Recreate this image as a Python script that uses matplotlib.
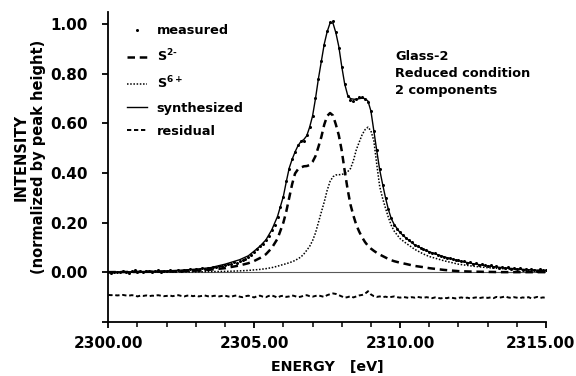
import numpy as np
import matplotlib
matplotlib.use("Agg")
import matplotlib.pyplot as plt
import matplotlib.transforms as mtransforms
from matplotlib.ticker import MultipleLocator, FormatStrFormatter

plt.rcParams['font.family'] = ['DejaVu Sans']
plt.rcParams['font.weight'] = 'bold'

# ---- fitted components (energy grid in eV) ----
energy_fit = [2300.0, 2301.0, 2302.0, 2302.5, 2303.0, 2303.5, 2304.0, 2304.5, 2304.8, 2305.0,
              2305.2, 2305.4, 2305.6, 2305.8, 2306.0,
              2306.1, 2306.2, 2306.3, 2306.4, 2306.5, 2306.6, 2306.7, 2306.8, 2306.9, 2307.0,
              2307.1, 2307.2, 2307.3, 2307.4, 2307.5, 2307.6, 2307.7, 2307.8, 2307.9, 2308.0,
              2308.1, 2308.2, 2308.3, 2308.4, 2308.5, 2308.6, 2308.7, 2308.8, 2308.9, 2309.0,
              2309.1, 2309.2, 2309.3, 2309.4, 2309.5, 2309.6, 2309.7, 2309.8,
              2310.0, 2310.2, 2310.5, 2310.8, 2311.0,
              2311.5, 2312.0, 2312.5, 2313.0, 2313.5, 2314.0, 2314.5, 2315.0]

s2_minus = [0.000, 0.001, 0.002, 0.004, 0.006, 0.010, 0.016, 0.027, 0.036, 0.045,
            0.057, 0.072, 0.097, 0.135, 0.200,
            0.245, 0.300, 0.355, 0.398, 0.415, 0.422, 0.427, 0.428, 0.432, 0.445,
            0.468, 0.505, 0.545, 0.595, 0.630, 0.642, 0.632, 0.595, 0.552, 0.490,
            0.410, 0.335, 0.272, 0.228, 0.190, 0.163, 0.140, 0.121, 0.106, 0.095,
            0.086, 0.078, 0.071, 0.065, 0.059, 0.053, 0.048, 0.044,
            0.038, 0.033, 0.025, 0.020, 0.016,
            0.009, 0.004, 0.002, 0.001, 0.000, 0.000, 0.000, 0.000]

s6_plus = [0.000, 0.000, 0.000, 0.001, 0.001, 0.002, 0.003, 0.005, 0.007, 0.009,
           0.011, 0.014, 0.018, 0.024, 0.031,
           0.034, 0.038, 0.042, 0.047, 0.054, 0.061, 0.073, 0.088, 0.104, 0.127,
           0.158, 0.200, 0.242, 0.283, 0.330, 0.366, 0.385, 0.392, 0.393, 0.394,
           0.398, 0.405, 0.418, 0.450, 0.494, 0.525, 0.555, 0.575, 0.585, 0.570,
           0.530, 0.435, 0.346, 0.298, 0.258, 0.220, 0.188, 0.165,
           0.135, 0.117, 0.092, 0.073, 0.063,
           0.046, 0.032, 0.024, 0.018, 0.014, 0.010, 0.008, 0.006]

synthesized = [0.000, 0.002, 0.005, 0.008, 0.012, 0.018, 0.032, 0.050, 0.066, 0.085,
               0.105, 0.130, 0.170, 0.225, 0.306,
               0.365, 0.420, 0.455, 0.485, 0.510, 0.527, 0.535, 0.550, 0.585, 0.630,
               0.700, 0.780, 0.850, 0.920, 0.970, 1.005, 1.005, 0.965, 0.910, 0.830,
               0.760, 0.715, 0.700, 0.698, 0.697, 0.700, 0.702, 0.700, 0.690, 0.650,
               0.570, 0.490, 0.413, 0.355, 0.300, 0.252, 0.215, 0.192,
               0.159, 0.138, 0.110, 0.092, 0.082,
               0.062, 0.046, 0.034, 0.025, 0.018, 0.013, 0.009, 0.006]

# ---- measured spectrum and residual (0.1 eV steps from 2300.0 to 2315.0) ----
e_start, e_step = 2300.0, 0.1
measured = [
    0.001, -0.002, 0.002, 0.000, -0.001, 0.003, 0.001, -0.002, 0.004, 0.008,
    0.002, 0.005, -0.001, 0.003, 0.006, 0.001, 0.004, 0.007, 0.002, 0.006,
    0.003, 0.008, 0.005, 0.004, 0.010, 0.006, 0.009, 0.007, 0.012, 0.008,
    0.013, 0.010, 0.015, 0.012, 0.018, 0.016, 0.021, 0.019, 0.025, 0.023,
    0.030, 0.034, 0.031, 0.040, 0.037, 0.046, 0.050, 0.055, 0.062, 0.070,
    0.083, 0.092, 0.104, 0.115, 0.131, 0.145, 0.168, 0.190, 0.222, 0.262,
    0.305, 0.368, 0.418, 0.457, 0.486, 0.512, 0.530, 0.528, 0.552, 0.584,
    0.628, 0.702, 0.778, 0.852, 0.918, 0.972, 1.008, 1.012, 0.968, 0.905,
    0.828, 0.758, 0.712, 0.695, 0.690, 0.698, 0.705, 0.708, 0.700, 0.688,
    0.652, 0.568, 0.492, 0.418, 0.352, 0.298, 0.256, 0.218, 0.190, 0.176,
    0.160, 0.150, 0.139, 0.128, 0.121, 0.111, 0.106, 0.099, 0.093, 0.090,
    0.083, 0.078, 0.076, 0.069, 0.066, 0.063, 0.058, 0.057, 0.052, 0.050,
    0.047, 0.044, 0.045, 0.038, 0.040, 0.033, 0.036, 0.030, 0.032, 0.027,
    0.026, 0.029, 0.021, 0.024, 0.018, 0.022, 0.015, 0.019, 0.013, 0.017,
    0.011, 0.015, 0.009, 0.013, 0.006, 0.012, 0.008, 0.005, 0.011, 0.007,
    0.008]

residual = [
    -0.092, -0.093, -0.092, -0.094, -0.093, -0.092, -0.094, -0.095, -0.093, -0.094,
    -0.098, -0.095, -0.096, -0.094, -0.097, -0.095, -0.096, -0.093, -0.095, -0.097,
    -0.096, -0.094, -0.097, -0.095, -0.093, -0.096, -0.098, -0.095, -0.094, -0.097,
    -0.095, -0.098, -0.096, -0.094, -0.097, -0.099, -0.096, -0.095, -0.098, -0.096,
    -0.095, -0.098, -0.100, -0.096, -0.094, -0.099, -0.101, -0.097, -0.095, -0.099,
    -0.102, -0.097, -0.095, -0.099, -0.101, -0.096, -0.094, -0.098, -0.103, -0.097,
    -0.095, -0.100, -0.098, -0.094, -0.097, -0.101, -0.099, -0.095, -0.093, -0.097,
    -0.099, -0.096, -0.094, -0.097, -0.100, -0.093, -0.089, -0.086, -0.088, -0.093,
    -0.098, -0.103, -0.101, -0.097, -0.102, -0.098, -0.094, -0.092, -0.087, -0.077,
    -0.090, -0.097, -0.100, -0.098, -0.101, -0.099, -0.102, -0.100, -0.098, -0.101,
    -0.103, -0.100, -0.102, -0.104, -0.101, -0.103, -0.100, -0.102, -0.104, -0.101,
    -0.103, -0.105, -0.102, -0.104, -0.106, -0.103, -0.105, -0.102, -0.104, -0.106,
    -0.104, -0.102, -0.105, -0.103, -0.106, -0.104, -0.102, -0.105, -0.103, -0.101,
    -0.104, -0.102, -0.105, -0.100, -0.103, -0.101, -0.098, -0.102, -0.104, -0.101,
    -0.103, -0.105, -0.102, -0.104, -0.101, -0.106, -0.103, -0.100, -0.104, -0.102,
    -0.104]

energy_meas = np.round(e_start + e_step * np.arange(len(measured)), 2)

x_ticks = [2300, 2305, 2310, 2315]
y_ticks = [-0.2, 0.0, 0.2, 0.4, 0.6, 0.8, 1.0]

fig = plt.figure(figsize=(5.76, 3.76), dpi=100)
ax = fig.add_axes([108.3 / 576, 1 - 321.7 / 376, (546 - 108.3) / 576, (321.7 - 11.9) / 376])

ax.axhline(0, color='0.35', lw=0.8, zorder=1)
ax.plot(energy_meas, measured, linestyle='none', marker='o', ms=2.2, color='black',
        mec='black', mew=0, label='measured', zorder=5)
ax.plot(energy_fit, s2_minus, color='black', lw=1.8, dashes=(3.0, 1.9),
        label=r'S$^{2\text{-}}$')
ax.plot(energy_fit, s6_plus, color='black', lw=1.1, linestyle=(0, (1, 1.1)),
        label=r'S$^{6+}$')
ax.plot(energy_fit, synthesized, color='black', lw=1.0, label='synthesized', zorder=4)
ax.plot(energy_meas, residual, color='black', lw=1.4, dashes=(2.2, 1.4), label='residual')

ax.set_xlim(2300, 2315)
ax.set_ylim(-0.2, 1.05)
ax.set_xticks(x_ticks)
ax.xaxis.set_minor_locator(MultipleLocator(1))
ax.set_yticks(y_ticks)
ax.xaxis.set_major_formatter(FormatStrFormatter('%.2f'))
ax.set_yticklabels(['' if v < 0 else f'{v:.2f}' for v in y_ticks])

for s in ['top', 'right']:
    ax.spines[s].set_visible(False)
for s in ['left', 'bottom']:
    ax.spines[s].set_linewidth(1.3)
ax.tick_params(axis='both', which='major', direction='out', length=4, width=1.3,
               labelsize=11)
ax.tick_params(axis='y', pad=11)
ax.tick_params(axis='x', pad=6)
ax.tick_params(axis='x', which='minor', direction='out', length=3.5, width=1.1)
for lab in ax.get_xticklabels() + ax.get_yticklabels():
    lab.set_fontweight('bold')
# nudge the last x tick label left so it stays inside the canvas
last = ax.get_xticklabels()[-1]
last.set_transform(last.get_transform() + mtransforms.ScaledTranslation(-6 / 100, 0, fig.dpi_scale_trans))

ax.set_xlabel('ENERGY   [eV]', fontsize=10.3, fontweight='bold', labelpad=7)
fig.text(0.052, 1 - 157 / 376, 'INTENSITY\n(normalized by peak height)', rotation=90,
         ha='center', va='center', fontsize=10.5, fontweight='bold', multialignment='center')

leg = ax.legend(loc='upper left', bbox_to_anchor=(0.018, 0.995), frameon=False,
                prop={'size': 9.3, 'weight': 'bold'}, handlelength=1.55, handletextpad=0.75,
                labelspacing=0.8, numpoints=1, borderaxespad=0.45)

fig.text(395 / 576, 1 - 50 / 376, 'Glass-2\nReduced condition\n2 components',
         fontsize=9.3, fontweight='bold', va='top', ha='left', linespacing=1.38)

fig.savefig('out.png', dpi=100)
